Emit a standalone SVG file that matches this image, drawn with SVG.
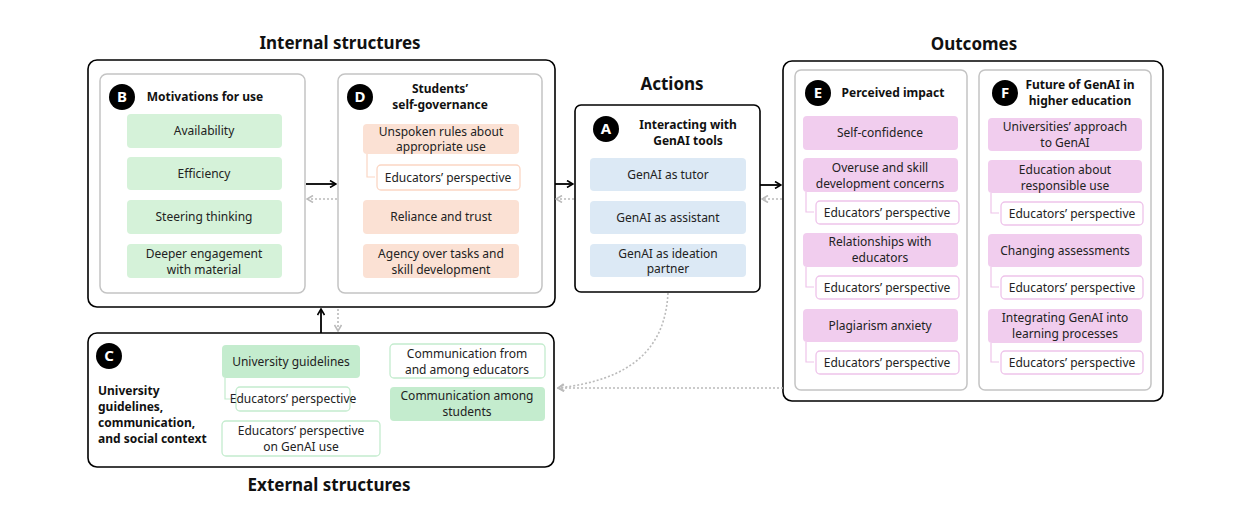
<svg xmlns="http://www.w3.org/2000/svg" width="1251" height="525" viewBox="0 0 1251 525">
<defs>
<style>
text{font-family:"Noto Sans","Liberation Sans",sans-serif;font-size:12px;fill:#222;text-anchor:middle}
.h{font-size:17px;font-weight:bold;fill:#111}
.b{font-weight:bold;font-size:12px;fill:#111}
.L{text-anchor:start}
.big{fill:#fff;stroke:#000;stroke-width:1.6}
.sub{fill:#fff;stroke:#c4c4c4;stroke-width:1.5}
.g{fill:#d5f2d9}.g2{fill:#c4ecce}.o{fill:#fbe1d4}.bl{fill:#dce9f5}.p{fill:#f1cdee}
.wg{fill:#fff;stroke:#c4ecce;stroke-width:1.3}.wo{fill:#fff;stroke:#fbd6c4;stroke-width:1.3}.wp{fill:#fff;stroke:#eec3ea;stroke-width:1.3}
.cl{fill:#000}.ct{fill:#fff;font-weight:bold;font-size:15px}
.s{stroke:#000;stroke-width:1.8;fill:none;marker-end:url(#a)}
.d{stroke:#bbb;stroke-width:1.6;fill:none;stroke-dasharray:2 2;marker-end:url(#ad)}
.tg{fill:none;stroke:#c4ecce;stroke-width:1.2}.to{fill:none;stroke:#fbd6c4;stroke-width:1.2}.tp{fill:none;stroke:#eec3ea;stroke-width:1.2}
</style>
<marker id="a" markerWidth="8" markerHeight="8" refX="7" refY="4" orient="auto" markerUnits="userSpaceOnUse"><path d="M1,0.5 L7,4 L1,7.5" fill="none" stroke="#000" stroke-width="1.6"/></marker>
<marker id="ad" markerWidth="8" markerHeight="8" refX="7" refY="4" orient="auto" markerUnits="userSpaceOnUse"><path d="M1,0.5 L7,4 L1,7.5" fill="none" stroke="#bbb" stroke-width="1.6"/></marker>
</defs>
<text class="h" x="340" y="49">Internal structures</text>
<text class="h" x="672" y="90">Actions</text>
<text class="h" x="974" y="50">Outcomes</text>
<text class="h" x="329" y="491">External structures</text>

<g id="internal"><rect class="big" x="88" y="60" width="467" height="247" rx="9"/></g>
<g id="B">
<rect class="sub" x="100" y="74" width="205" height="219" rx="7"/>
<circle class="cl" cx="122" cy="97" r="13"/><text class="ct" x="122" y="102">B</text>
<text class="b" x="205" y="101">Motivations for use</text>
<rect class="g" x="127" y="114" width="155" height="34" rx="4"/><text x="204" y="135">Availability</text>
<rect class="g" x="127" y="157" width="155" height="33" rx="4"/><text x="204" y="178">Efficiency</text>
<rect class="g" x="127" y="200" width="155" height="34" rx="4"/><text x="204" y="221">Steering thinking</text>
<rect class="g" x="127" y="244" width="155" height="34" rx="4"/><text x="204" y="258">Deeper engagement</text><text x="204" y="274">with material</text>
</g>
<g id="D">
<rect class="sub" x="338" y="74" width="204" height="219" rx="7"/>
<circle class="cl" cx="360" cy="97" r="13"/><text class="ct" x="360" y="102">D</text>
<text class="b" x="440" y="93">Students’</text><text class="b" x="440" y="109">self-governance</text>
<rect class="o" x="363" y="124" width="156" height="30" rx="4"/><text x="441" y="136">Unspoken rules about</text><text x="441" y="151">appropriate use</text>
<path class="to" d="M367,154 V177 H375"/>
<rect class="wo" x="377" y="165" width="143" height="25" rx="4"/><text x="448" y="182">Educators’ perspective</text>
<rect class="o" x="363" y="200" width="156" height="34" rx="4"/><text x="441" y="221">Reliance and trust</text>
<rect class="o" x="363" y="244" width="156" height="34" rx="4"/><text x="441" y="258">Agency over tasks and</text><text x="441" y="274">skill development</text>
</g>
<g id="A">
<rect class="big" x="575" y="105" width="185" height="187" rx="6"/>
<circle class="cl" cx="606" cy="129" r="13"/><text class="ct" x="606" y="134">A</text>
<text class="b" x="688" y="129">Interacting with</text><text class="b" x="688" y="145">GenAI tools</text>
<rect class="bl" x="590" y="158" width="156" height="33" rx="4"/><text x="668" y="179">GenAI as tutor</text>
<rect class="bl" x="590" y="201" width="156" height="33" rx="4"/><text x="668" y="222">GenAI as assistant</text>
<rect class="bl" x="590" y="244" width="156" height="33" rx="4"/><text x="668" y="258">GenAI as ideation</text><text x="668" y="273">partner</text>
</g>
<g id="outcomes"><rect class="big" x="783" y="61" width="380" height="340" rx="9"/></g>
<g id="E">
<rect class="sub" x="795" y="70" width="172" height="320" rx="6"/>
<circle class="cl" cx="818" cy="93" r="13"/><text class="ct" x="818" y="98">E</text>
<text class="b" x="893" y="97">Perceived impact</text>
<rect class="p" x="803" y="116" width="155" height="34" rx="4"/><text x="880" y="137">Self-confidence</text>
<rect class="p" x="803" y="158" width="155" height="34" rx="4"/><text x="880" y="172">Overuse and skill</text><text x="880" y="188">development concerns</text>
<path class="tp" d="M806,192 V212 H814"/><rect class="wp" x="816" y="201" width="143" height="23" rx="4"/><text x="887" y="217">Educators’ perspective</text>
<rect class="p" x="803" y="233" width="155" height="34" rx="4"/><text x="880" y="246">Relationships with</text><text x="880" y="262">educators</text>
<path class="tp" d="M806,267 V287 H814"/><rect class="wp" x="816" y="276" width="143" height="23" rx="4"/><text x="887" y="292">Educators’ perspective</text>
<rect class="p" x="803" y="309" width="155" height="33" rx="4"/><text x="880" y="330">Plagiarism anxiety</text>
<path class="tp" d="M806,342 V362 H814"/><rect class="wp" x="816" y="351" width="143" height="23" rx="4"/><text x="887" y="367">Educators’ perspective</text>
</g>
<g id="F">
<rect class="sub" x="979" y="70" width="172" height="320" rx="6"/>
<circle class="cl" cx="1005" cy="93" r="13"/><text class="ct" x="1005" y="98">F</text>
<text class="b" x="1080" y="89">Future of GenAI in</text><text class="b" x="1080" y="105">higher education</text>
<rect class="p" x="988" y="118" width="154" height="33" rx="4"/><text x="1065" y="131">Universities’ approach</text><text x="1065" y="147">to GenAI</text>
<rect class="p" x="988" y="160" width="154" height="33" rx="4"/><text x="1065" y="174">Education about</text><text x="1065" y="190">responsible use</text>
<path class="tp" d="M991,193 V213 H999"/><rect class="wp" x="1001" y="202" width="142" height="23" rx="4"/><text x="1072" y="218">Educators’ perspective</text>
<rect class="p" x="988" y="234" width="154" height="33" rx="4"/><text x="1065" y="255">Changing assessments</text>
<path class="tp" d="M991,267 V287 H999"/><rect class="wp" x="1001" y="276" width="142" height="23" rx="4"/><text x="1072" y="292">Educators’ perspective</text>
<rect class="p" x="988" y="309" width="154" height="34" rx="4"/><text x="1065" y="322">Integrating GenAI into</text><text x="1065" y="338">learning processes</text>
<path class="tp" d="M991,343 V362 H999"/><rect class="wp" x="1001" y="351" width="142" height="23" rx="4"/><text x="1072" y="367">Educators’ perspective</text>
</g>
<g id="C">
<rect class="big" x="88" y="333" width="466" height="134" rx="9"/>
<circle class="cl" cx="109" cy="356" r="13"/><text class="ct" x="109" y="361">C</text>
<text class="b L" x="98" y="395">University</text><text class="b L" x="98" y="411">guidelines,</text><text class="b L" x="98" y="427">communication,</text><text class="b L" x="98" y="443">and social context</text>
<rect class="g2" x="222" y="345" width="138" height="33" rx="4"/><text x="291" y="366">University guidelines</text>
<path class="tg" d="M225,378 V399 H234"/><rect class="wg" x="236" y="387" width="114" height="24" rx="4"/><text x="293" y="403">Educators’ perspective</text>
<rect class="wg" x="222" y="421" width="158" height="35" rx="4"/><text x="301" y="435">Educators’ perspective</text><text x="301" y="451">on GenAI use</text>
<rect class="wg" x="390" y="344" width="155" height="34" rx="4"/><text x="467" y="358">Communication from</text><text x="467" y="374">and among educators</text>
<rect class="g2" x="390" y="387" width="155" height="34" rx="4"/><text x="467" y="400">Communication among</text><text x="467" y="416">students</text>
</g>
<g id="connectors">
<path class="s" d="M306,184 H336"/><path class="d" d="M337,199 H307"/>
<path class="s" d="M555,184 H573"/><path class="d" d="M574,199 H556"/>
<path class="s" d="M760,185 H781"/><path class="d" d="M782,199 H762"/>
<path class="s" d="M321,333 V309"/><path class="d" d="M338,309 V331"/>
<path class="d" d="M783,388 H558"/>
<path class="d" d="M668,293 C665,350 630,380 558,388"/>
</g>
</svg>
